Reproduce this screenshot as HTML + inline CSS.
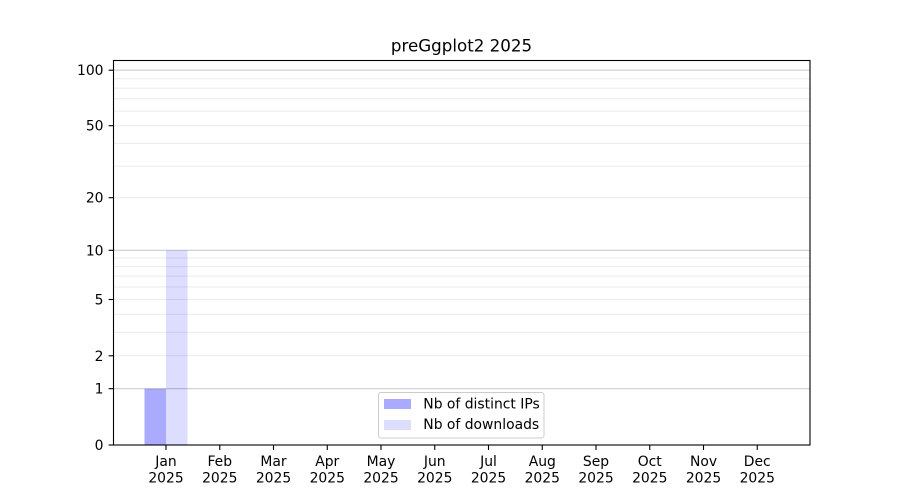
<!DOCTYPE html>
<html>
<head>
<meta charset="utf-8">
<style>
html,body{margin:0;padding:0;background:#fff;}
svg{display:block;}
text{font-family:"DejaVu Sans","Liberation Sans",sans-serif;fill:#000;}
</style>
</head>
<body>
<svg width="900" height="500" viewBox="0 0 900 500" xmlns="http://www.w3.org/2000/svg">
<rect x="0" y="0" width="900" height="500" fill="#fff"/>
<!-- bars -->
<rect x="144.5" y="388.7" width="21.5" height="56.6" fill="#aaaaff"/>
<rect x="166" y="250.3" width="21.5" height="195" fill="#ddddff"/>
<!-- minor grid -->
<g stroke="#000" stroke-opacity="0.08" stroke-width="1">
<line x1="113.5" x2="810" y1="355.8" y2="355.8"/>
<line x1="113.5" x2="810" y1="332.3" y2="332.3"/>
<line x1="113.5" x2="810" y1="314.3" y2="314.3"/>
<line x1="113.5" x2="810" y1="299.5" y2="299.5"/>
<line x1="113.5" x2="810" y1="287" y2="287"/>
<line x1="113.5" x2="810" y1="276.1" y2="276.1"/>
<line x1="113.5" x2="810" y1="266.6" y2="266.6"/>
<line x1="113.5" x2="810" y1="258" y2="258"/>
<line x1="113.5" x2="810" y1="197.7" y2="197.7"/>
<line x1="113.5" x2="810" y1="166.1" y2="166.1"/>
<line x1="113.5" x2="810" y1="143.4" y2="143.4"/>
<line x1="113.5" x2="810" y1="125.7" y2="125.7"/>
<line x1="113.5" x2="810" y1="111.1" y2="111.1"/>
<line x1="113.5" x2="810" y1="98.8" y2="98.8"/>
<line x1="113.5" x2="810" y1="88.1" y2="88.1"/>
<line x1="113.5" x2="810" y1="78.7" y2="78.7"/>
</g>
<!-- major grid -->
<g stroke="#000" stroke-opacity="0.2" stroke-width="1.1">
<line x1="113.5" x2="810" y1="388.7" y2="388.7"/>
<line x1="113.5" x2="810" y1="250.3" y2="250.3"/>
<line x1="113.5" x2="810" y1="70.2" y2="70.2"/>
</g>
<!-- axes frame -->
<rect x="113.5" y="60.5" width="696.5" height="384.5" fill="none" stroke="#000" stroke-width="1.1"/>
<!-- y ticks -->
<g stroke="#000" stroke-width="1.1">
<line x1="108.6" x2="113.5" y1="445" y2="445"/>
<line x1="108.6" x2="113.5" y1="388.7" y2="388.7"/>
<line x1="108.6" x2="113.5" y1="355.8" y2="355.8"/>
<line x1="108.6" x2="113.5" y1="299.5" y2="299.5"/>
<line x1="108.6" x2="113.5" y1="250.3" y2="250.3"/>
<line x1="108.6" x2="113.5" y1="197.7" y2="197.7"/>
<line x1="108.6" x2="113.5" y1="125.7" y2="125.7"/>
<line x1="108.6" x2="113.5" y1="70.2" y2="70.2"/>
</g>
<g font-size="13.9" text-anchor="end">
<text x="103.5" y="450">0</text>
<text x="103.5" y="393.7">1</text>
<text x="103.5" y="360.8">2</text>
<text x="103.5" y="304.5">5</text>
<text x="103.5" y="255.3">10</text>
<text x="103.5" y="202.7">20</text>
<text x="103.5" y="130.7">50</text>
<text x="103.5" y="75.2">100</text>
</g>
<!-- x ticks -->
<g stroke="#000" stroke-width="1.1">
<line x1="166" x2="166" y1="445" y2="450"/>
<line x1="219.75" x2="219.75" y1="445" y2="450"/>
<line x1="273.5" x2="273.5" y1="445" y2="450"/>
<line x1="327.25" x2="327.25" y1="445" y2="450"/>
<line x1="381" x2="381" y1="445" y2="450"/>
<line x1="434.75" x2="434.75" y1="445" y2="450"/>
<line x1="488.5" x2="488.5" y1="445" y2="450"/>
<line x1="542.25" x2="542.25" y1="445" y2="450"/>
<line x1="596" x2="596" y1="445" y2="450"/>
<line x1="649.75" x2="649.75" y1="445" y2="450"/>
<line x1="703.5" x2="703.5" y1="445" y2="450"/>
<line x1="757.25" x2="757.25" y1="445" y2="450"/>
</g>
<g font-size="13.9" text-anchor="middle">
<text x="166" y="466">Jan</text><text x="166" y="482.5">2025</text>
<text x="219.75" y="466">Feb</text><text x="219.75" y="482.5">2025</text>
<text x="273.5" y="466">Mar</text><text x="273.5" y="482.5">2025</text>
<text x="327.25" y="466">Apr</text><text x="327.25" y="482.5">2025</text>
<text x="381" y="466">May</text><text x="381" y="482.5">2025</text>
<text x="434.75" y="466">Jun</text><text x="434.75" y="482.5">2025</text>
<text x="488.5" y="466">Jul</text><text x="488.5" y="482.5">2025</text>
<text x="542.25" y="466">Aug</text><text x="542.25" y="482.5">2025</text>
<text x="596" y="466">Sep</text><text x="596" y="482.5">2025</text>
<text x="649.75" y="466">Oct</text><text x="649.75" y="482.5">2025</text>
<text x="703.5" y="466">Nov</text><text x="703.5" y="482.5">2025</text>
<text x="757.25" y="466">Dec</text><text x="757.25" y="482.5">2025</text>
</g>
<!-- title -->
<text x="461.5" y="51.5" font-size="16.7" text-anchor="middle">preGgplot2 2025</text>
<!-- legend -->
<rect x="378.5" y="392.5" width="165.5" height="45.5" rx="2.5" fill="#fff" fill-opacity="0.8" stroke="#cccccc" stroke-width="1"/>
<rect x="384" y="399" width="27" height="10" fill="#aaaaff"/>
<rect x="384" y="420" width="27" height="10" fill="#ddddff"/>
<g font-size="13.9">
<text x="423.3" y="408.5">Nb of distinct IPs</text>
<text x="423.3" y="429.2">Nb of downloads</text>
</g>
</svg>
</body>
</html>
